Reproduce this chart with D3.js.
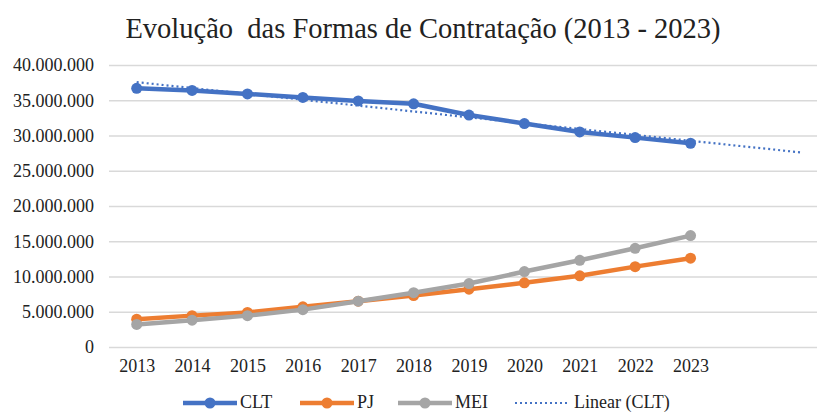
<!DOCTYPE html>
<html><head><meta charset="utf-8">
<script src="https://cdn.jsdelivr.net/npm/d3@7"></script>
<style>html,body{margin:0;padding:0;background:#fff;}svg{display:block;}</style>
</head><body>
<script>
const years = ["2013","2014","2015","2016","2017","2018","2019","2020","2021","2022","2023"];
const slots = ["2013","2014","2015","2016","2017","2018","2019","2020","2021","2022","2023","2024","2025"];
const clt = [36700000,36400000,35900000,35400000,34900000,34500000,32900000,31700000,30500000,29700000,28900000];
const pj  = [3950000,4450000,4900000,5700000,6500000,7300000,8200000,9100000,10100000,11400000,12600000];
const mei = [3200000,3800000,4450000,5300000,6500000,7700000,9000000,10700000,12300000,14000000,15800000];
const yTicks = [0,5000000,10000000,15000000,20000000,25000000,30000000,35000000,40000000];
const seriesNames = ["CLT","PJ","MEI","Linear (CLT)"];
const colors = {CLT:"#4472C4", PJ:"#ED7D31", MEI:"#A5A5A5"};

const W = 817, H = 412;
const svg = d3.select("body").append("svg").attr("width", W).attr("height", H);
const font = "'Liberation Serif', 'Times New Roman', serif";

const mLeft = 109, mRight = 829, mTop = 65, mBottom = 347;
const x = d3.scalePoint().domain(slots).range([mLeft, mRight]).padding(0.5);
const y = d3.scaleLinear().domain([0, 40000000]).range([mBottom, mTop]);

svg.append("text").attr("x", 423).attr("y", 38).attr("text-anchor", "middle")
  .attr("font-family", font).attr("font-size", 28.5).attr("fill", "#222")
  .style("white-space", "pre").text("Evolução  das Formas de Contratação (2013 - 2023)");

const fmt = v => d3.format(",")(v).replace(/,/g, ".");
const yAxis = d3.axisLeft(y).tickValues(yTicks).tickFormat(fmt).tickSize(-(W - mLeft)).tickPadding(15);
const gy = svg.append("g").attr("transform", `translate(${mLeft},0)`).call(yAxis);
gy.attr("font-family", font);
gy.select(".domain").remove();
gy.selectAll(".tick line").attr("stroke", "#d9d9d9").attr("stroke-width", 1.3);
gy.selectAll(".tick text").attr("font-family", font).attr("font-size", 18).attr("fill", "#222");

const xAxis = d3.axisBottom(x).tickValues(years).tickSize(0).tickPadding(12);
const gx = svg.append("g").attr("transform", `translate(0,${mBottom})`).call(xAxis);
gx.attr("font-family", font);
gx.select(".domain").remove();
gx.selectAll(".tick text").attr("font-family", font).attr("font-size", 18).attr("fill", "#222");

// linear trend (least squares on CLT), forecast forward 2 periods
const n = clt.length;
const xm = d3.mean(d3.range(n)), ym = d3.mean(clt);
const slope = d3.sum(d3.range(n), i => (i - xm) * (clt[i] - ym)) / d3.sum(d3.range(n), i => (i - xm) ** 2);
const icpt = ym - slope * xm;
const trend = [0, slots.length - 1].map(i => [x(slots[i]), y(icpt + slope * i)]);

const line = d3.line().x((d, i) => x(years[i])).y(d => y(d));
function drawSeries(vals, c) {
  svg.append("path").datum(vals).attr("d", line).attr("fill", "none")
    .attr("stroke", c).attr("stroke-width", 4.5).attr("stroke-linejoin", "round");
  svg.append("g").selectAll("circle").data(vals).join("circle")
    .attr("cx", (d, i) => x(years[i])).attr("cy", d => y(d)).attr("r", 5.5).attr("fill", c);
}
drawSeries(clt, colors.CLT);
svg.append("path").attr("d", d3.line()(trend)).attr("fill", "none")
  .attr("stroke", colors.CLT).attr("stroke-width", 2.2).attr("stroke-dasharray", "2 3");
drawSeries(pj, colors.PJ);
drawSeries(mei, colors.MEI);

// legend
const ly = 403;
const leg = [
  {name: seriesNames[0], c: colors.CLT, x0: 183, dotted: false},
  {name: seriesNames[1], c: colors.PJ, x0: 300, dotted: false},
  {name: seriesNames[2], c: colors.MEI, x0: 398, dotted: false},
  {name: seriesNames[3], c: colors.CLT, x0: 515, dotted: true}
];
leg.forEach(l => {
  const g = svg.append("g");
  if (l.dotted) {
    g.append("line").attr("x1", l.x0).attr("x2", l.x0 + 52).attr("y1", ly).attr("y2", ly)
      .attr("stroke", l.c).attr("stroke-width", 2.2).attr("stroke-dasharray", "2 3");
  } else {
    g.append("line").attr("x1", l.x0).attr("x2", l.x0 + 54).attr("y1", ly).attr("y2", ly)
      .attr("stroke", l.c).attr("stroke-width", 4.5);
    g.append("circle").attr("cx", l.x0 + 27).attr("cy", ly).attr("r", 5.5).attr("fill", l.c);
  }
  g.append("text").attr("x", l.x0 + (l.dotted ? 59 : 57)).attr("y", ly + 5)
    .attr("font-family", font).attr("font-size", 18).attr("fill", "#222").text(l.name);
});
</script>
</body></html>
